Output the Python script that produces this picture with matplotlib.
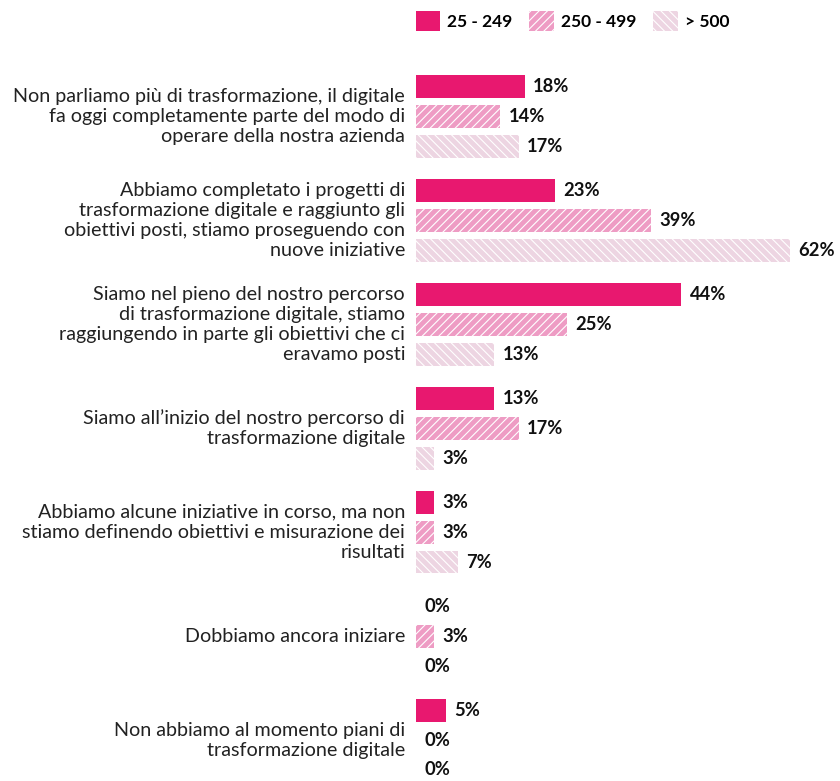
import matplotlib
matplotlib.use("Agg")
import matplotlib.pyplot as plt
from matplotlib.patches import Patch

plt.rcParams['font.family'] = ['Lato', 'DejaVu Sans']
plt.rcParams['hatch.linewidth'] = 0.8

categories = [
    "Non parliamo più di trasformazione, il digitale\nfa oggi completamente parte del modo di\noperare della nostra azienda",
    "Abbiamo completato i progetti di\ntrasformazione digitale e raggiunto gli\nobiettivi posti, stiamo proseguendo con\nnuove iniziative",
    "Siamo nel pieno del nostro percorso\ndi trasformazione digitale, stiamo\nraggiungendo in parte gli obiettivi che ci\neravamo posti",
    "Siamo all’inizio del nostro percorso di\ntrasformazione digitale",
    "Abbiamo alcune iniziative in corso, ma non\nstiamo definendo obiettivi e misurazione dei\nrisultati",
    "Dobbiamo ancora iniziare",
    "Non abbiamo al momento piani di\ntrasformazione digitale",
]
series_names = ["25 - 249", "250 - 499", "> 500"]
small = [18, 23, 44, 13, 3, 0, 5]
medium = [14, 39, 25, 17, 3, 3, 0]
large = [17, 62, 13, 3, 7, 0, 0]

colors = ["#E8186F", "#EE9CC4", "#EDD5E2"]
hatches = [None, "////", "\\\\\\\\"]

W, H = 840, 781
fig = plt.figure(figsize=(W / 100, H / 100), dpi=100)
# axes placed in pixel terms of the reference
left, right = 416, 838
top, bottom = 72, 781
ax = fig.add_axes([left / W, 1 - bottom / H, (right - left) / W, (bottom - top) / H])

group_step = 3.5
px_per_unit = 29.7
ax.set_xlim(0, (right - left) / 6.03)
ax.set_ylim(-0.5 + (bottom - top) / px_per_unit, -0.5)

for s, vals in enumerate([small, medium, large]):
    for g, v in enumerate(vals):
        y = g * group_step + s
        ax.barh(y, v, height=0.77, color=colors[s], hatch=hatches[s],
                edgecolor="white", linewidth=0)
        ax.annotate(f"{v}%", (v, y), xytext=(6, 0), textcoords="offset points",
                    va="center", ha="left", fontsize=13.2, fontweight="bold",
                    color="#111111", annotation_clip=False)

for g, cat in enumerate(categories):
    ax.text(-0.026, g * group_step + 1, cat, transform=ax.get_yaxis_transform(),
            ha="right", va="center", fontsize=14.2, color="#222222",
            linespacing=1.22)

ax.axis("off")

handles = [Patch(facecolor=colors[i], hatch=hatches[i], edgecolor="white",
                 linewidth=0) for i in range(3)]
leg = fig.legend(handles, series_names, loc="center left",
                 bbox_to_anchor=(400 / W, 1 - 21 / H), ncol=3, frameon=False,
                 handlelength=1.4, handleheight=1.4, handletextpad=0.4,
                 columnspacing=1.0, prop={"weight": "bold", "size": 12.5})

fig.savefig("out.png", dpi=100)
